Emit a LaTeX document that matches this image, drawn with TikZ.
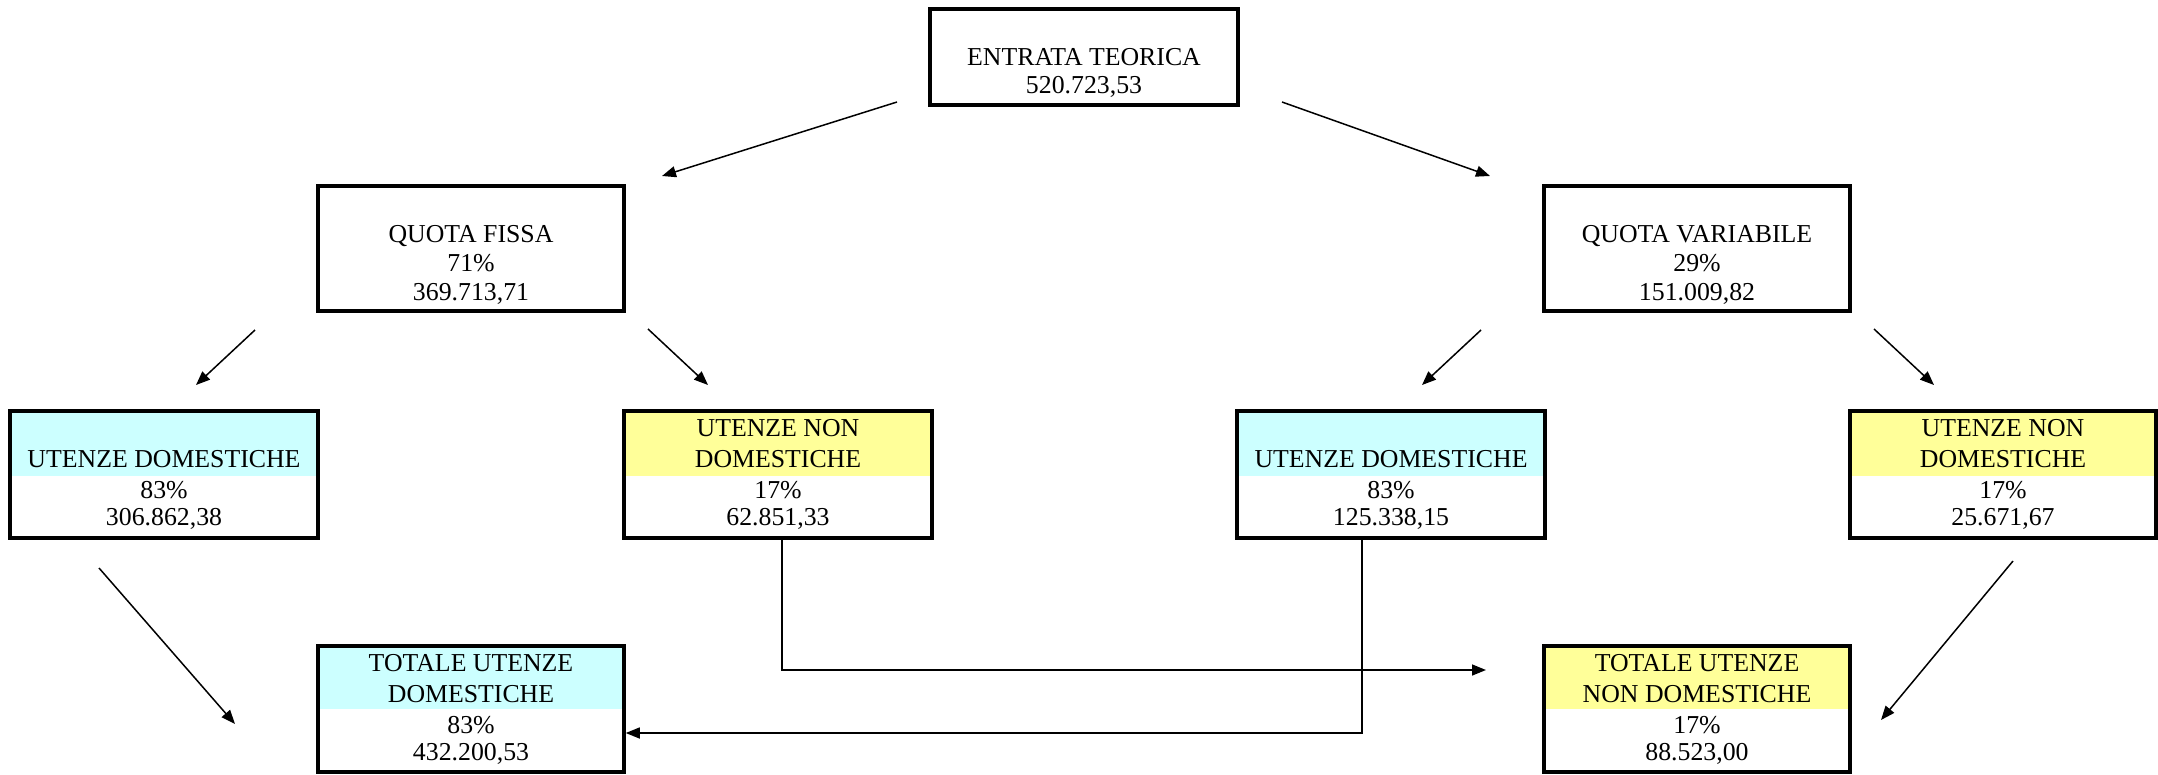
\documentclass[tikz,border=0pt]{standalone}
\usepackage{fontspec}
\setmainfont{Liberation Serif}
\usetikzlibrary{arrows.meta}
\definecolor{cyanband}{HTML}{CCFFFF}
\definecolor{yellowband}{HTML}{FFFF99}
\begin{document}
\begin{tikzpicture}[x=1pt,y=-1pt,
  box/.style={draw, line width=3.5pt, rectangle, inner sep=0pt, outer sep=0pt},
  txt/.style={anchor=base, inner sep=0pt, outer sep=0pt, font=\fontsize{25.8pt}{28pt}\selectfont},
  arr/.style={line width=1.5pt, -{Triangle[length=14pt,width=11pt]}},
  link/.style={line width=1.5pt}]
\useasboundingbox (0,0) rectangle (2158,774);
% coloured header bands
\fill[cyanband]   (10,411) rectangle (318,476);
\fill[yellowband] (624,411) rectangle (932,476);
\fill[cyanband]   (1237,411) rectangle (1545,476);
\fill[yellowband] (1850,411) rectangle (2156,476);
\fill[cyanband]   (318,646) rectangle (624,709);
\fill[yellowband] (1544,646) rectangle (1850,709);
% boxes
\node[box, minimum width=308pt, minimum height=96pt]  (E)    at (1084,57) {};
\node[box, minimum width=306pt, minimum height=125pt] (QF)   at (471,248.5) {};
\node[box, minimum width=306pt, minimum height=125pt] (QV)   at (1697,248.5) {};
\node[box, minimum width=308pt, minimum height=127pt] (UD1)  at (164,474.5) {};
\node[box, minimum width=308pt, minimum height=127pt] (UND1) at (778,474.5) {};
\node[box, minimum width=308pt, minimum height=127pt] (UD2)  at (1391,474.5) {};
\node[box, minimum width=306pt, minimum height=127pt] (UND2) at (2003,474.5) {};
\node[box, minimum width=306pt, minimum height=126pt] (TUD)  at (471,709) {};
\node[box, minimum width=306pt, minimum height=126pt] (TUND) at (1697,709) {};
% texts
\node[txt] (e1) at (1084,65) {ENTRATA TEORICA};
\node[txt] (e2) at (1084,93) {520.723,53};
\node[txt] (qf1) at (471,242) {QUOTA FISSA};
\node[txt] (qf2) at (471,271) {71\%};
\node[txt] (qf3) at (471,300) {369.713,71};
\node[txt] (qv1) at (1697,242) {QUOTA VARIABILE};
\node[txt] (qv2) at (1697,271) {29\%};
\node[txt] (qv3) at (1697,300) {151.009,82};
\node[txt] (ud11) at (164,467) {UTENZE DOMESTICHE};
\node[txt] (ud12) at (164,498) {83\%};
\node[txt] (ud13) at (164,525) {306.862,38};
\node[txt] (und11) at (778,436) {UTENZE NON};
\node[txt] (und12) at (778,467) {DOMESTICHE};
\node[txt] (und13) at (778,498) {17\%};
\node[txt] (und14) at (778,525) {62.851,33};
\node[txt] (ud21) at (1391,467) {UTENZE DOMESTICHE};
\node[txt] (ud22) at (1391,498) {83\%};
\node[txt] (ud23) at (1391,525) {125.338,15};
\node[txt] (und21) at (2003,436) {UTENZE NON};
\node[txt] (und22) at (2003,467) {DOMESTICHE};
\node[txt] (und23) at (2003,498) {17\%};
\node[txt] (und24) at (2003,525) {25.671,67};
\node[txt] (tud1) at (471,671) {TOTALE UTENZE};
\node[txt] (tud2) at (471,702) {DOMESTICHE};
\node[txt] (tud3) at (471,733) {83\%};
\node[txt] (tud4) at (471,760) {432.200,53};
\node[txt] (tund1) at (1697,671) {TOTALE UTENZE};
\node[txt] (tund2) at (1697,702) {NON DOMESTICHE};
\node[txt] (tund3) at (1697,733) {17\%};
\node[txt] (tund4) at (1697,760) {88.523,00};
% free ends of the connectors
\coordinate (eqfA) at (897,102);   \coordinate (eqfB) at (662,176);
\coordinate (eqvA) at (1282,102);  \coordinate (eqvB) at (1490,176);
\coordinate (qfaA) at (255,330);   \coordinate (qfaB) at (196,385);
\coordinate (qfbA) at (648,329);   \coordinate (qfbB) at (708,385);
\coordinate (qvaA) at (1481,330);  \coordinate (qvaB) at (1422,385);
\coordinate (qvbA) at (1874,329);  \coordinate (qvbB) at (1934,385);
\coordinate (udtA) at (99,568);    \coordinate (udtB) at (235,724);
\coordinate (untA) at (2013,561);  \coordinate (untB) at (1881,720);
\coordinate (undEnd) at (1486,670);
% connectors
\draw[arr] (eqfA) -- (eqfB);
\draw[arr] (eqvA) -- (eqvB);
\draw[arr] (qfaA) -- (qfaB);
\draw[arr] (qfbA) -- (qfbB);
\draw[arr] (qvaA) -- (qvaB);
\draw[arr] (qvbA) -- (qvbB);
\draw[arr] (udtA) -- (udtB);
\draw[arr] (untA) -- (untB);
\draw[arr] ([xshift=4pt]UND1.south) |- (undEnd);
\draw[arr] ([xshift=-29pt]UD2.south) |- ([yshift=-24pt,xshift=1.75pt]TUD.east);
\end{tikzpicture}
\end{document}
